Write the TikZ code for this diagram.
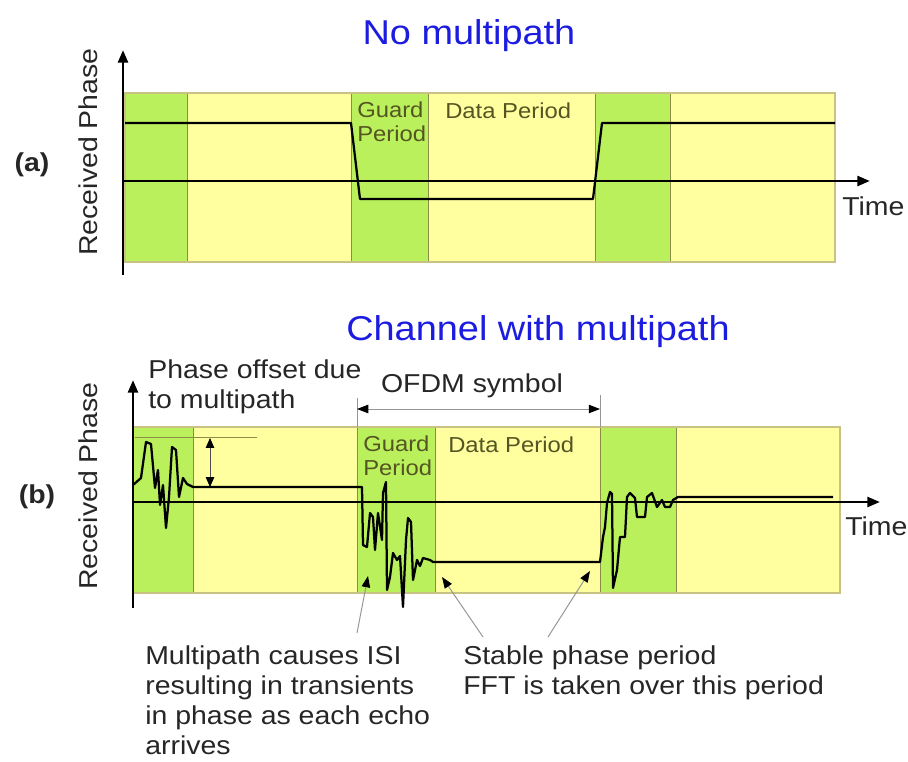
\documentclass[tikz,border=0pt]{standalone}
\usepackage{fontspec}
\setmainfont{Liberation Sans}[FakeStretch=1.1]
\usetikzlibrary{arrows.meta,positioning}
\definecolor{bandgreen}{RGB}{186,240,92}
\definecolor{bandyellow}{RGB}{255,255,160}
\definecolor{bandedge}{RGB}{140,140,70}
\definecolor{frameedge}{RGB}{200,195,130}
\definecolor{titleblue}{RGB}{28,28,225}
\definecolor{bandtext}{RGB}{85,85,35}
\definecolor{notegray}{RGB}{150,150,150}
\newcommand{\titlefnt}{\fontsize{24.5}{28}\selectfont}
\newcommand{\bodyfnt}{\fontsize{18.4}{21.5}\selectfont}
\newcommand{\bandfnt}{\fontsize{15.4}{17}\selectfont}
\tikzset{axis/.style={-{Triangle[length=9pt,width=7pt]}, line width=2pt},
         sig/.style={line width=1.6pt, line join=round},
         sep/.style={bandedge, line width=0.7pt},
         frame/.style={frameedge, line width=0.8pt},
         title/.style={text=titleblue, font=\titlefnt, inner sep=0pt},
         lbl/.style={text=black!85, font=\bodyfnt, inner sep=0pt, align=left},
         bandlbl/.style={text=bandtext, font=\bandfnt, inner sep=0pt, align=left},
         pointer/.style={notegray, line width=0.7pt, -{Triangle[length=8pt,width=6pt,color=black]}},
         dimline/.style={notegray, line width=0.7pt,
           {Triangle[length=8pt,width=6pt,color=black]}-{Triangle[length=8pt,width=6pt,color=black]}},
         offset/.style={black!70, line width=0.6pt,
           {Triangle[length=7pt,width=6pt,color=black]}-{Triangle[length=7pt,width=6pt,color=black]}}
}

\begin{document}
\begin{tikzpicture}[x=0.025cm, y=-0.025cm]
  \useasboundingbox (0,0) rectangle (908,762);

  % (a) no multipath
  \node[title, anchor=base] (titleA) at (469,45) {No multipath};
  \fill[bandyellow] (125,93) rectangle (835,262);
  \foreach \l/\r in {125/187, 351/428, 595/670}
    \fill[bandgreen] (\l,93) rectangle (\r,262);
  \foreach \xx in {187, 351, 428, 595, 670}
    \draw[sep] (\xx,93) -- (\xx,262);
  \draw[frame] (125,93) rectangle (835,262);
  \node[bandlbl, anchor=north west] (guardA) at (357,102) {Guard\\Period};
  \node[bandlbl, anchor=base west] (dataA) at (445,118) {Data Period};
  \draw[sig] (125,123) -- (351,123) -- (360,199) -- (593,199) -- (602,123) -- (835,123);
  \draw[axis] (123,181) -- (870,181);
  \draw[axis] (123,275) -- (123,50);
  \node[lbl, anchor=base west] (timeA) at (842,215) {Time};
  \node[lbl, rotate=90] (phaseA) at (88,152) {Received Phase};
  \node[lbl, font=\bodyfnt\bfseries] (tagA) at (32,165) {(a)};

  % (b) channel with multipath
  \node[title, anchor=base] (titleB) at (538,340) {Channel with multipath};
  \fill[bandyellow] (133,427) rectangle (840,593);
  \foreach \l/\r in {133/193, 357/435, 600/676}
    \fill[bandgreen] (\l,427) rectangle (\r,593);
  \foreach \xx in {193, 357, 435, 600, 676}
    \draw[sep] (\xx,427) -- (\xx,593);
  \draw[frame] (133,427) rectangle (840,593);
  \node[bandlbl, anchor=north west] (guardB) at (363,436) {Guard\\Period};
  \node[bandlbl, anchor=base west] (dataB) at (448,452) {Data Period};

  % phase offset marker
  \coordinate (offTop) at (210,438);
  \coordinate (offBot) at (210,487);
  \draw[bandedge, line width=0.5pt] (135,437) -- (257,437);
  \draw[offset] (offTop) -- (offBot);

  \draw[sig] (133,485) -- (141,478) -- (146,442) -- (151,444) -- (155,488) -- (158,470)
    -- (160,505) -- (163,485) -- (166,528) -- (169,497) -- (172,447) -- (176,450)
    -- (179,497) -- (183,478) -- (187,484) -- (193,487) -- (362,487)
    -- (363,545) -- (367,547) -- (370,513) -- (373,517) -- (375,550) -- (378,513)
    -- (382,540) -- (383,493) -- (386,482) -- (387,590) -- (390,577) -- (393,553)
    -- (397,560) -- (400,556) -- (403,607) -- (406,540) -- (408,518) -- (411,522)
    -- (413,580) -- (417,560) -- (420,566) -- (423,558) -- (430,560) -- (433,562)
    -- (600,562) -- (603,537) -- (605,527) -- (607,503) -- (610,492) -- (612,494)
    -- (613,588) -- (617,570) -- (620,537) -- (625,537) -- (627,497) -- (630,493)
    -- (635,498) -- (637,517) -- (645,517) -- (647,497) -- (652,493) -- (657,507)
    -- (662,500) -- (665,507) -- (670,507) -- (673,500) -- (678,497) -- (833,497);
  \draw[axis] (133,502) -- (880,502);
  \draw[axis] (133,608) -- (133,380);
  \node[lbl, anchor=base west] (timeB) at (845,535) {Time};
  \node[lbl, rotate=90] (phaseB) at (88,486) {Received Phase};
  \node[lbl, font=\bodyfnt\bfseries] (tagB) at (37,497) {(b)};

  % OFDM symbol span
  \coordinate (symL) at (357,409);
  \coordinate (symR) at (600,409);
  \draw[notegray, line width=0.6pt] (357,398) -- (357,427);
  \draw[notegray, line width=0.6pt] (600,395) -- (600,427);
  \draw[dimline] (symL) -- (symR);
  \node[lbl, anchor=base] (symbol) at (472,392) {OFDM symbol};
  \node[lbl, anchor=north west] (offsetTxt) at (148,359) {Phase offset due\\to multipath};

  % notes under the plot
  \node[lbl, anchor=north west] (isi) at (145,645)
    {Multipath causes ISI\\resulting in transients\\in phase as each echo\\arrives};
  \node[lbl, anchor=north west] (stable) at (463,645)
    {Stable phase period\\FFT is taken over this period};
  \coordinate (isiFoot) at (357,633);
  \coordinate (isiTip) at (368,576);
  \coordinate (stabFootL) at (483,637);
  \coordinate (stabTipL) at (442,577);
  \coordinate (stabFootR) at (548,637);
  \coordinate (stabTipR) at (590,571);
  \draw[pointer] (isiFoot) -- (isiTip);
  \draw[pointer] (stabFootL) -- (stabTipL);
  \draw[pointer] (stabFootR) -- (stabTipR);
\end{tikzpicture}
\end{document}
